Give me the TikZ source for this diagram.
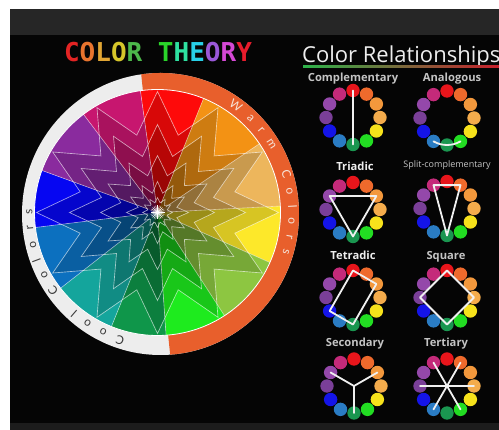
\documentclass[tikz,border=0pt]{standalone}
\usepackage{fontspec}
\setmainfont{Open Sans}
\newfontfamily\titlefont{DejaVu Sans Mono}
\newfontfamily\ringfont{Lato}
\usetikzlibrary{decorations.text}

\definecolor{topband}{HTML}{262626}
\definecolor{bgblack}{HTML}{050505}
\definecolor{botband}{HTML}{1C1C1C}
\definecolor{ringgray}{HTML}{EDEDED}
\definecolor{ringorange}{HTML}{E85F2C}
\definecolor{warmtext}{HTML}{F6E2D6}
\definecolor{cooltext}{HTML}{3A3A3A}
% big wheel
\definecolor{wred}{HTML}{FE0A0A}
\definecolor{worange}{HTML}{F39214}
\definecolor{wtan}{HTML}{EDB65C}
\definecolor{wyellow}{HTML}{FDE82A}
\definecolor{wygreen}{HTML}{8DC641}
\definecolor{wbgreen}{HTML}{1EEB1E}
\definecolor{wdkgreen}{HTML}{0F964A}
\definecolor{wteal}{HTML}{14A59C}
\definecolor{wblueb}{HTML}{0C70BF}
\definecolor{wblue}{HTML}{0606F2}
\definecolor{wpurple}{HTML}{8A2B9E}
\definecolor{wmagenta}{HTML}{C7166F}
% mini wheels
\definecolor{mw0}{HTML}{E8151B}
\definecolor{mw1}{HTML}{EF6A2C}
\definecolor{mw2}{HTML}{F3983C}
\definecolor{mw3}{HTML}{F4AC4C}
\definecolor{mw4}{HTML}{F7E21B}
\definecolor{mw5}{HTML}{22DD22}
\definecolor{mw6}{HTML}{1A9650}
\definecolor{mw7}{HTML}{2A7CC4}
\definecolor{mw8}{HTML}{1414E8}
\definecolor{mw9}{HTML}{7A3F98}
\definecolor{mw10}{HTML}{9448AA}
\definecolor{mw11}{HTML}{C42A7A}
% title
\definecolor{t1}{HTML}{E32424}
\definecolor{t2}{HTML}{E8742E}
\definecolor{t3}{HTML}{E0A534}
\definecolor{t4}{HTML}{D6C62A}
\definecolor{t5}{HTML}{4CB84A}
\definecolor{t6}{HTML}{2AD42A}
\definecolor{t7}{HTML}{2EE0A0}
\definecolor{t8}{HTML}{28D0E8}
\definecolor{t9}{HTML}{9A58D8}
\definecolor{t10}{HTML}{D448D4}
\definecolor{t11}{HTML}{E81C2C}
\definecolor{lblgray}{HTML}{C4C4C4}
\definecolor{lblwhite}{HTML}{EEEEEE}
\definecolor{relgreen}{HTML}{2DB34A}
\definecolor{relcyan}{HTML}{1FA3B0}
\definecolor{relred}{HTML}{C8202C}

\tikzset{
  mdot/.style={circle, inner sep=0pt, minimum size=13.4pt, draw=none},
  relline/.style={draw=white!94!black, line width=1.8pt, line join=round, line cap=round},
  lbl/.style={text=lblgray, font=\bfseries\fontsize{11.2}{12}\selectfont, anchor=base, inner sep=0pt},
  lblw/.style={lbl, text=lblwhite},
  starlayer/.style={fill=black, fill opacity=0.15, draw=white, draw opacity=0.62, line width=0.65pt},
  spoke/.style={draw=white, draw opacity=0.55, line width=0.6pt},
}

\newcommand\miniwheel[3]{%
  \begin{scope}[shift={(#2,#3)}]
    \foreach \c [count=\j from 0] in {mw0,mw1,mw2,mw3,mw4,mw5,mw6,mw7,mw8,mw9,mw10,mw11}
      \node[mdot, fill=\c] (#1-\j) at ({30*\j-90}:27) {};
  \end{scope}}

\begin{document}
\begin{tikzpicture}[x=1pt,y=-1pt]
\useasboundingbox (0,0) rectangle (499,430);
\fill[white] (0,0) rectangle (499,430);
\fill[topband] (10,9) rectangle (499,35);
\fill[bgblack] (10,35) rectangle (499,423);
\fill[botband] (10,423) rectangle (499,430);

% title
\node[anchor=base, inner sep=0pt, font=\titlefont\bfseries\fontsize{26}{26}\selectfont] (title) at (158,62)
  {\textcolor{t1}{C}\textcolor{t2}{O}\textcolor{t3}{L}\textcolor{t4}{O}\textcolor{t5}{R} \textcolor{t6}{T}\textcolor{t7}{H}\textcolor{t8}{E}\textcolor{t9}{O}\textcolor{t10}{R}\textcolor{t11}{Y}};

% ring
\begin{scope}[shift={(160.5,214)}]
  \fill[ringgray] (0,0) ellipse[x radius=138.5, y radius=141];
  \fill[ringorange] (-98:138.5 and 141) arc[start angle=-98, end angle=86, x radius=138.5, y radius=141] -- cycle;
\end{scope}

% wheel
\begin{scope}[shift={(157.5,212.5)}]
  \foreach \a/\b/\c in {-98/-68/wred, -68/-34/worange, -34/-3/wtan, -3/24/wyellow,
      24/57/wygreen, 57/86/wbgreen, 86/112/wdkgreen, 112/142/wteal,
      142/173/wblueb, 173/200/wblue, 200/233/wpurple, 233/262/wmagenta}
    \fill[\c] (0,0) -- (\a:123) arc[start angle=\a, end angle=\b, radius=123] -- cycle;
  \foreach \R/\r in {121/80, 88/58, 57/38, 31/20, 15/10}
    \path[starlayer] (90:\R) \foreach \k in {1,...,12} { -- ({90+30*\k-15}:\r) -- ({90+30*\k}:\R) } -- cycle;
  \foreach \a in {-98,-68,-34,-3,24,57,86,112,142,173,200,233}
    \path[spoke] (\a:10) -- (\a:123);
  \foreach \a in {0,15,...,345}
    \draw[white, line width=0.45pt] (0,0) -- (\a:7);
  \fill[white] (0,0) circle[radius=1.8];
  \draw[white, line width=0.8pt] (0,0) circle[radius=123];
\end{scope}

% ring texts
\begin{scope}[shift={(160.5,214)}]
  \path[decorate, decoration={text along path, text align=fit to path, text color=warmtext,
      text={|\ringfont\fontsize{12}{12}\selectfont|Warm Colors}}]
    (-58:128) arc[start angle=-58, end angle=18, radius=128];
  \path[decorate, decoration={text along path, text align=fit to path, text color=cooltext,
      text={|\ringfont\fontsize{12}{12}\selectfont|Cool Colors}}]
    (106:128) arc[start angle=106, end angle=182, radius=128];
\end{scope}

% heading
\node[anchor=base west, inner sep=0pt, text=lblwhite, font=\fontsize{22}{22}\selectfont] (rel) at (302,63) {Color Relationships};
\shade[left color=relgreen, middle color=relcyan, right color=relred] (303,66) rectangle (499,67.6);

% labels
\node[lbl] (l1) at (353,82) {Complementary};
\node[lbl] (l2) at (452,82) {Analogous};
\node[lblw] (l3) at (355,171) {Triadic};
\node[lbl, font=\fontsize{9}{9}\selectfont] (l4) at (447,168) {Split-complementary};
\node[lblw] (l5) at (353,260) {Tetradic};
\node[lbl] (l6) at (446,260) {Square};
\node[lbl] (l7) at (355,347) {Secondary};
\node[lbl] (l8) at (446,347) {Tertiary};

% mini wheels
\miniwheel{comp}{353}{117.5}
\miniwheel{ana}{447}{118}
\miniwheel{tri}{353}{209.5}
\miniwheel{spl}{447}{208.5}
\miniwheel{tet}{353}{297.5}
\miniwheel{squ}{447}{297.5}
\miniwheel{sec}{354}{386}
\miniwheel{ter}{447}{386}
\coordinate (sec-c) at (354,386);

\draw[relline] (comp-0.center) -- (comp-6.center);
\draw[relline] (ana-7.center) arc[start angle=120, end angle=60, radius=27];
\draw[relline] (tri-10.center) -- (tri-2.center) -- (tri-6.center) -- cycle;
\draw[relline] (spl-11.center) -- (spl-1.center) -- (spl-6.center) -- cycle;
\draw[relline] (tet-0.center) -- (tet-2.center) -- (tet-6.center) -- (tet-8.center) -- cycle;
\draw[relline] (squ-0.center) -- (squ-3.center) -- (squ-6.center) -- (squ-9.center) -- cycle;
\draw[relline] (sec-c) -- (sec-10.center) (sec-c) -- (sec-2.center) (sec-c) -- (sec-6.center);
\draw[relline] (ter-11.center) -- (ter-5.center) (ter-1.center) -- (ter-7.center) (ter-9.center) -- (ter-3.center);
\end{tikzpicture}
\end{document}
